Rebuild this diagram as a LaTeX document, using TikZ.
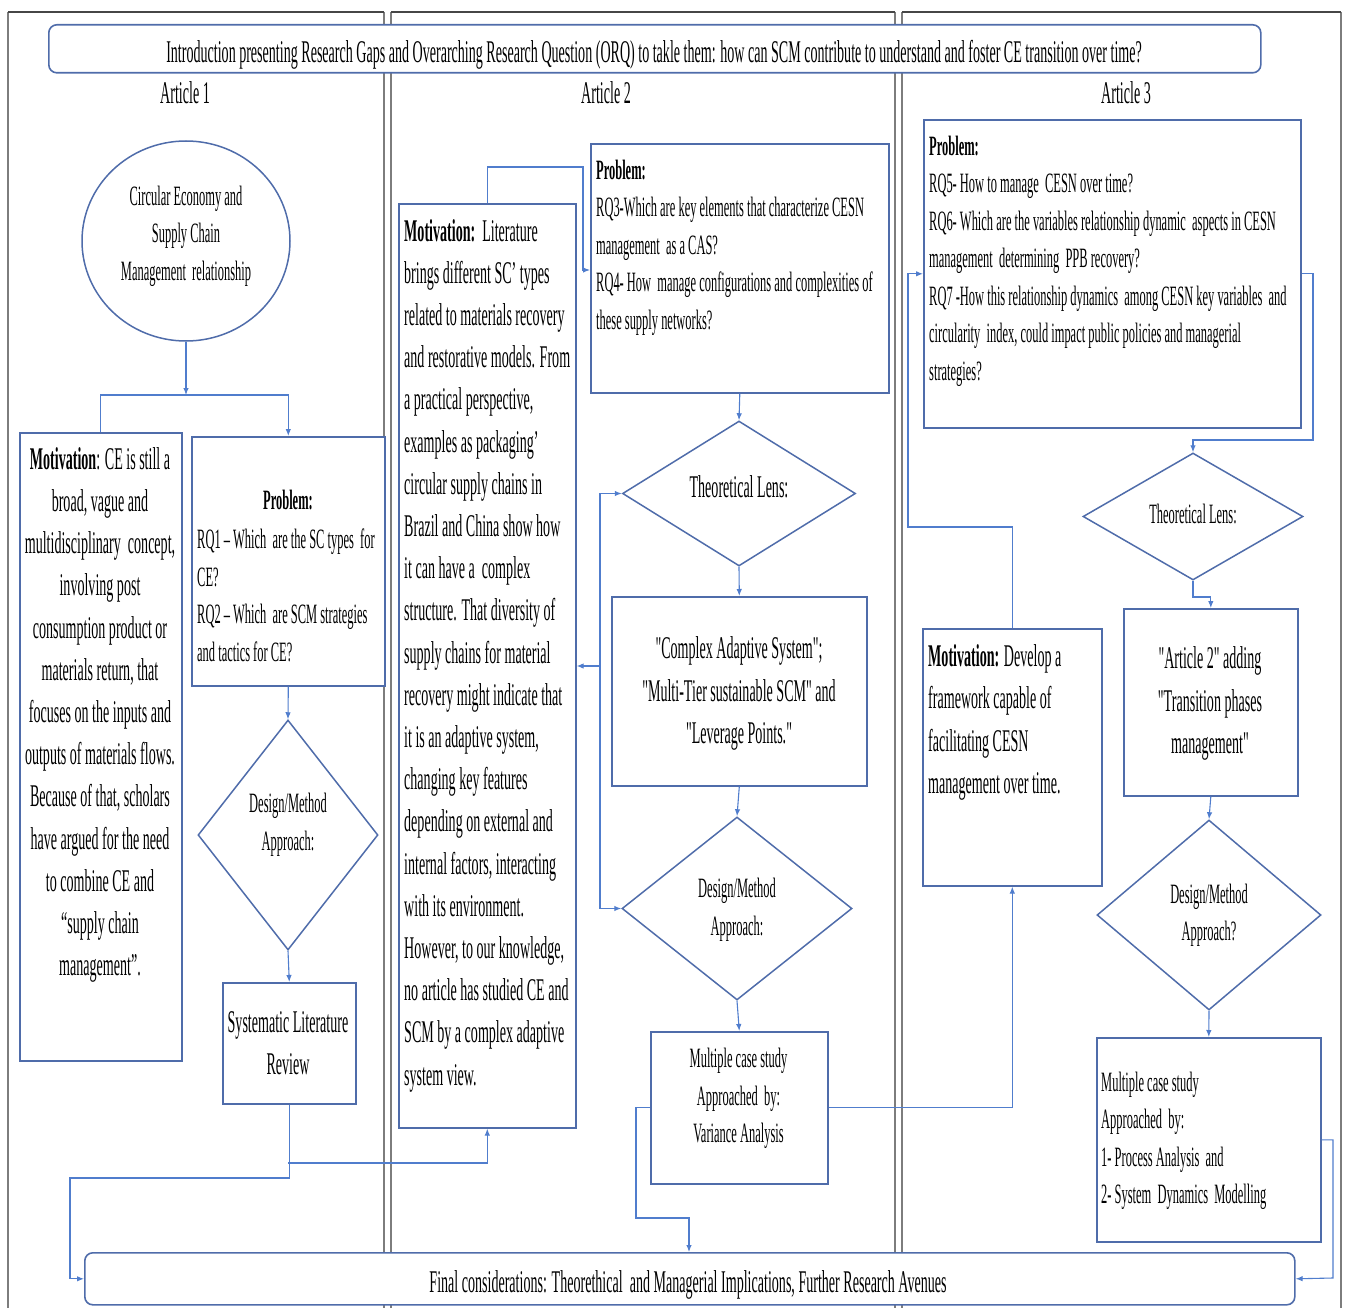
\documentclass[tikz,border=0pt]{standalone}
\usepackage{fontspec}
\setmainfont{Liberation Serif}[FakeStretch=0.445, Ligatures=TeXOff]
\usetikzlibrary{shapes.geometric,arrows.meta}
\definecolor{boxblue}{RGB}{79,108,170}
\definecolor{linkblue}{RGB}{80,125,205}
\definecolor{framegray}{RGB}{125,125,125}
\definecolor{framedark}{RGB}{70,70,70}
\newcommand\txtL{\fontsize{31.6}{42.2}\selectfont}
\newcommand\txtS{\fontsize{28}{37.5}\selectfont}

\begin{document}
\begin{tikzpicture}[x=1pt,y=-1pt,
  box/.style={draw=boxblue, line width=1.6pt, fill=white, rectangle, inner sep=0pt, anchor=north west},
  roundbox/.style={box, rounded corners=8pt},
  decision/.style={draw=boxblue, line width=1.5pt, diamond, inner sep=0pt},
  txt/.style={inner sep=0pt, font=\txtL},
  stxt/.style={inner sep=0pt, font=\txtS},
  conn/.style={draw=linkblue, line width=1.1pt, -{Latex[length=7pt,width=5.5pt]}},
  plain/.style={draw=linkblue, line width=1.1pt},
  colside/.style={draw=framegray, line width=1.2pt},
  coltop/.style={draw=framedark, line width=2pt}
]
\useasboundingbox (0,0) rectangle (1347,1308);

% three article columns
\draw[colside] (8,1312) -- (8,12) (384,12) -- (384,1312);
\draw[colside] (391,1312) -- (391,12) (895,12) -- (895,1312);
\draw[colside] (902,1312) -- (902,12) (1341,12) -- (1341,1312);
\draw[coltop] (8,12) -- (384,12) (391,12) -- (895,12) (902,12) -- (1341,12);

% frame boxes spanning all columns
\node[roundbox, minimum width=1212pt, minimum height=48pt] (intro) at (48,24) {};
\node[roundbox, minimum width=1210pt, minimum height=52pt] (final) at (84,1252) {};
\node[txt] (introtxt) at (654,55) {Introduction presenting Research Gaps and Overarching Research Question (ORQ) to takle them: how can SCM contribute to understand and foster CE transition over time?};
\node[txt] (finaltxt) at (688,1285) {Final considerations: Theorethical\ \ and Managerial Implications, Further Research Avenues};

\node[txt] (lbl1) at (185,93) {Article 1};
\node[txt] (lbl2) at (606,93) {Article 2};
\node[txt] (lbl3) at (1126,93) {Article 3};

% ---------- Article 1 ----------
\node[draw=boxblue, line width=1.5pt, ellipse, minimum width=208pt, minimum height=200pt,
      inner sep=0pt] (ell) at (186,241) {};
\node[stxt, align=center] (elltxt) at (186,236) {Circular Economy and\\Supply Chain\\Management\ \ relationship};
\node[box, minimum width=162pt, minimum height=628pt] (mot1) at (19,432) {};
\node[box, minimum width=193pt, minimum height=249pt] (prob1) at (191,436) {};
\node[decision, minimum width=180pt, minimum height=230pt] (dm1) at (288,835) {};
\node[stxt, align=center] (dm1txt) at (288,825) {Design/Method\\Approach:};
\node[box, minimum width=133pt, minimum height=121pt] (slr) at (222,982) {};

\node[txt, align=center] (mot1txt) at (100,715) {\textbf{Motivation}: CE is still a\\broad, vague and\\multidisciplinary\ \ concept,\\involving post\\consumption product or\\materials return, that\\focuses on the inputs and\\outputs of materials flows.\\Because of that, scholars\\have argued for the need\\to combine CE and\\“supply chain\\management”.};
\node[stxt, font=\txtS\bfseries] (prob1head) at (288,500) {Problem:};
\node[stxt, align=left, anchor=west] (prob1txt) at (197,595.5) {RQ1 – Which\ \ are the SC types\ \ for\\CE?\\RQ2 – Which\ \ are SCM strategies\\and tactics for CE?};
\node[txt, align=center] (slrtxt) at (288,1043.5) {Systematic Literature\\Review};

% ---------- Article 2 ----------
\node[box, minimum width=177pt, minimum height=924pt] (mot2) at (398,203) {};
\node[box, minimum width=298pt, minimum height=249pt] (prob2) at (590,143) {};
\node[decision, minimum width=233pt, minimum height=145pt] (tl2) at (739,493.5) {};
\node[txt] (tl2txt) at (739,487) {Theoretical Lens:};
\node[box, minimum width=255pt, minimum height=189pt] (cas) at (611,596) {};
\node[decision, minimum width=230pt, minimum height=183pt] (dm2) at (737,908.5) {};
\node[stxt, align=center] (dm2txt) at (737,910) {Design/Method\\Approach:};
\node[box, minimum width=177pt, minimum height=152pt] (case2) at (650,1031) {};

\node[txt, align=left, anchor=west] (mot2txt) at (404,655.5) {\textbf{Motivation:}\ \ Literature\\brings different SC’ types\\related to materials recovery\\and restorative models. From\\a practical perspective,\\examples as packaging’\\circular supply chains in\\Brazil and China show how\\it can have a\ \ complex\\structure. That diversity of\\supply chains for material\\recovery might indicate that\\it is an adaptive system,\\changing key features\\depending on external and\\internal factors, interacting\\with its environment.\\However, to our knowledge,\\no article has studied CE and\\SCM by a complex adaptive\\system view.};
\node[stxt, align=left, anchor=west] (prob2txt) at (596,247.5) {\textbf{Problem:}\\RQ3-Which are key elements that characterize CESN\\management\ \ as a CAS?\\RQ4- How\ \ manage configurations and complexities of\\these supply networks?};
\node[txt, align=center] (castxt) at (739,693.5) {"Complex Adaptive System";\\"Multi-Tier sustainable SCM" and\\"Leverage Points."};
\node[stxt, align=center] (case2txt) at (738.5,1098.5) {Multiple case study\\Approached\ \ by:\\Variance Analysis};

% ---------- Article 3 ----------
\node[box, minimum width=377pt, minimum height=308pt] (prob3) at (923,119) {};
\node[decision, minimum width=220pt, minimum height=127pt] (tl3) at (1193,516.5) {};
\node[stxt] (tl3txt) at (1193,514) {Theoretical Lens:};
\node[box, minimum width=179pt, minimum height=257pt] (mot3) at (922,628) {};
\node[box, minimum width=174pt, minimum height=187pt] (art2) at (1123,608) {};
\node[decision, minimum width=224pt, minimum height=190pt] (dm3) at (1209,915) {};
\node[stxt, align=center] (dm3txt) at (1209,915.5) {Design/Method\\Approach?};
\node[box, minimum width=224pt, minimum height=204pt] (case3) at (1096,1037) {};

\node[stxt, align=left, anchor=west] (prob3txt) at (929,261) {\textbf{Problem:}\\RQ5- How to manage\ \ CESN over time?\\RQ6- Which are the variables relationship dynamic\ \ aspects in CESN\\management\ \ determining\ \ PPB recovery?\\RQ7 -How this relationship dynamics\ \ among CESN key variables\ \ and\\circularity\ \ index, could impact public policies and managerial\\strategies?};
\node[txt, align=left, anchor=west] (mot3txt) at (928,722.5) {\textbf{Motivation:} Develop a\\framework capable of\\facilitating CESN\\management over time.};
\node[txt, align=center] (art2txt) at (1210,703.5) {"Article 2" adding\\"Transition phases\\management"};
\node[stxt, align=left, anchor=west] (case3txt) at (1101,1141) {Multiple case study\\Approached\ \ by:\\1- Process Analysis\ \ and\\2- System\ \ Dynamics\ \ Modelling};

% ---------- connectors ----------
\coordinate (j1) at (186,395);
\draw[conn] (ell.south) -- (j1);
\draw[plain] (mot1.north) |- (j1);
\draw[conn] (j1) -| (prob1.north);
\draw[conn] (prob1.south) -- (dm1.north);
\draw[conn] (dm1.south) -- (slr.north);
\coordinate (s1) at (70,1178);
\draw[conn] (slr.south) |- (s1) |- (final.west);
\coordinate (s2) at (288,1163);
\draw[conn] (s2) -| (mot2.south);

\coordinate (c2a) at (583,167);
\coordinate (c2b) at (583,270);
\draw[conn] (mot2.north) |- (c2a) -- (c2b) -- (c2b -| prob2.west);
\draw[conn] (prob2.south) -- (tl2.north);
\draw[conn] (tl2.south) -- (cas.north);
\draw[conn] (cas.south) -- (dm2.north);
\draw[conn] (dm2.south) -- (case2.north);
\coordinate (v) at (600,666);
\draw[conn] (v) |- (tl2.west);
\draw[conn] (v) |- (dm2.west);
\draw[conn] (v) -- (v -| mot2.east);
\coordinate (k1) at (636,1218);
\coordinate (k2) at (689,1218);
\draw[conn] (case2.west) -| (k1) -- (k2) -- (k2 |- final.north);
\draw[conn] (case2.east) -| (mot3.south);

\coordinate (m1) at (908,527);
\draw[conn] (mot3.north) |- (m1) |- (prob3.west);
\coordinate (p1) at (1313,440);
\draw[conn] (prob3.east) -| (p1) -| (tl3.north);
\coordinate (t1) at (1193,597);
\draw[conn] (tl3.south) -- (t1) -| (art2.north);
\draw[conn] (art2.south) -- (dm3.north);
\draw[conn] (dm3.south) -- (case3.north);
\coordinate (q1) at (1333,1278);
\draw[conn] (case3.east) -| (q1) -- (final.east);
\end{tikzpicture}
\end{document}
